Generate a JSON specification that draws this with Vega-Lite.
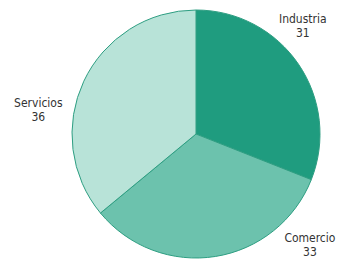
{
  "$schema": "https://vega.github.io/schema/vega-lite/v6.json",
  "width": 248,
  "height": 248,
  "autosize": {"type": "none"},
  "padding": {"left": 72, "top": 10, "right": 18, "bottom": 1},
  "background": "white",
  "data": {"values": [
    {"sector": "Industria", "value": 31},
    {"sector": "Comercio", "value": 33},
    {"sector": "Servicios", "value": 36}
  ]},
  "encoding": {
    "theta": {"field": "value", "type": "quantitative", "stack": true},
    "order": {"field": "value", "type": "quantitative", "sort": "ascending"}
  },
  "layer": [
    {
      "mark": {"type": "arc", "outerRadius": 124, "stroke": "#2e9e82", "strokeWidth": 1},
      "encoding": {
        "color": {
          "field": "sector", "type": "nominal",
          "scale": {"domain": ["Industria", "Comercio", "Servicios"], "range": ["#1f9c7f", "#6cc2ad", "#b8e3d8"]},
          "legend": null
        }
      }
    },
    {
      "transform": [{"calculate": "datum.sector + '\\n' + datum.value", "as": "label"}],
      "mark": {
        "type": "text", "radius": 140, "font": "DejaVu Sans Condensed", "fontSize": 12,
        "color": "#333333", "lineBreak": "\n", "baseline": "middle", "align": "center", "lineHeight": 14,
        "dx": {"expr": "datum.sector === 'Industria' ? -9 : datum.sector === 'Comercio' ? 92 : -31"},
        "dy": {"expr": "datum.sector === 'Industria' ? -36 : datum.sector === 'Comercio' ? -34 : 29"}
      },
      "encoding": {"text": {"field": "label"}}
    }
  ]
}
